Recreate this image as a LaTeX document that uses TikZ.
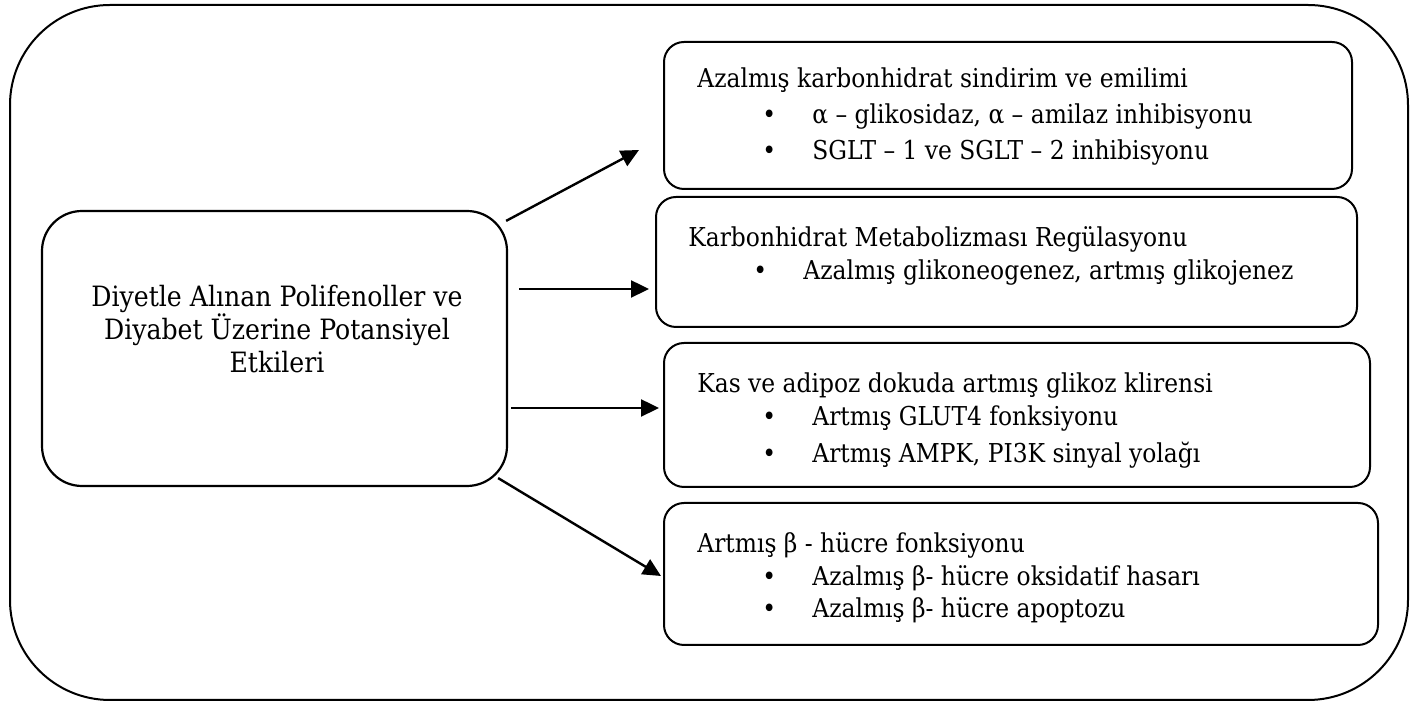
\documentclass[tikz,border=0pt]{standalone}
\usepackage{fontspec}
\setmainfont{DejaVu Serif Condensed}
\usetikzlibrary{positioning, arrows.meta, calc}

\begin{document}
\begin{tikzpicture}[
  x=0.5pt, y=-0.5pt,
  every node/.style={font=\fontsize{13}{15}\selectfont, inner sep=0pt},
  outer/.style={
    draw, line width=1pt,
    rounded corners=50pt,
    minimum width=699pt, minimum height=347.5pt
  },
  source/.style={
    draw, line width=1.1pt,
    rounded corners=20pt,
    minimum width=232.5pt, minimum height=137.5pt
  },
  effect/.style={
    draw, line width=1pt,
    rounded corners=10pt
  },
  title/.style={anchor=base west},
  item/.style={anchor=base west},
  link/.style={draw, -{Triangle[length=9pt, width=8.5pt]}, line width=1.2pt}
]

\useasboundingbox (0,0) rectangle (1410,704);

\node[outer] (frame) at (709,352.5) {};

% kaynak kutusu
\node[source] (main) at (274.5,348.5) {};
\node[align=center, font=\fontsize{14}{16.5}\selectfont] (maintext) at (277,329)
{Diyetle Alınan Polifenoller ve\\Diyabet Üzerine Potansiyel\\Etkileri};

% etki kutulari
\node[effect, minimum width=344pt, minimum height=73.5pt] (b1) at (1008,115.5) {};
\node[effect, minimum width=350.5pt, minimum height=65pt] (b2) at (1006.5,262) {};
\node[effect, minimum width=353pt, minimum height=72pt] (b3) at (1017,415) {};
\node[effect, minimum width=357pt, minimum height=71pt] (b4) at (1021,574) {};

\newcommand{\blt}[1]{\makebox[25pt][l]{\textbullet}#1}

\node[title] (t1) at (697,88) {Azalmış karbonhidrat sindirim ve emilimi};
\node[item] (i11) at (762,124) {\blt{α – glikosidaz, α – amilaz inhibisyonu}};
\node[item] (i12) at (762,160) {\blt{SGLT – 1 ve SGLT – 2 inhibisyonu}};

\node[title] (t2) at (688,247) {Karbonhidrat Metabolizması Regülasyonu};
\node[item] (i21) at (753,280) {\blt{Azalmış glikoneogenez, artmış glikojenez}};

\node[title] (t3) at (697,393) {Kas ve adipoz dokuda artmış glikoz klirensi};
\node[item] (i31) at (762,426) {\blt{Artmış GLUT4 fonksiyonu}};
\node[item] (i32) at (762,463) {\blt{Artmış AMPK, PI3K sinyal yolağı}};

\node[title] (t4) at (697,553) {Artmış β - hücre fonksiyonu};
\node[item] (i41) at (762,586) {\blt{Azalmış β- hücre oksidatif hasarı}};
\node[item] (i42) at (762,618) {\blt{Azalmış β- hücre apoptozu}};

% oklar
\draw[link] ($(main.north east)+(-2,11)$) -- ($(b1.west)+(-24,34.5)$);
\draw[link] ($(main.east)+(11,-59.5)$) -- ($(b2.west)+(-6,27)$);
\draw[link] ($(main.east)+(3,59.5)$) -- ($(b3.west)+(-4,-7)$);
\draw[link] ($(main.south east)+(-10,-9)$) -- ($(b4.west)+(-2,2)$);

\end{tikzpicture}
\end{document}
